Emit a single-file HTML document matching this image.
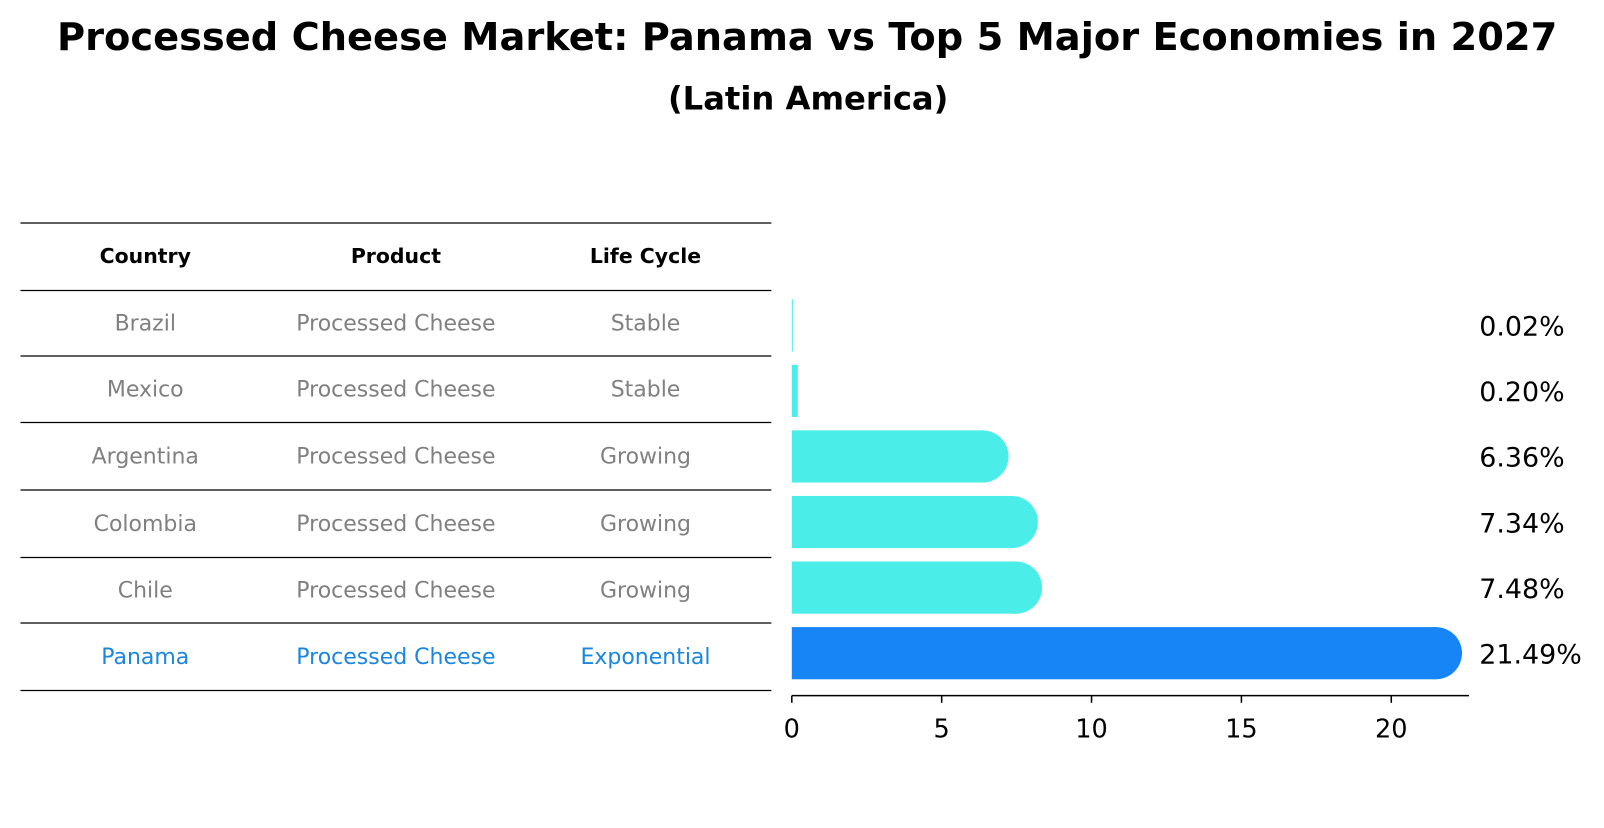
<!DOCTYPE html>
<html><head><meta charset="utf-8">
<style>
body{margin:0;background:#fff;width:1604px;height:823px;overflow:hidden;font-family:"Liberation Sans","DejaVu Sans",sans-serif;}
</style></head>
<body>
<svg width="1604" height="823" xmlns="http://www.w3.org/2000/svg">
<g transform="scale(1.023)">
<text x="789" y="49" text-anchor="middle" font-size="37.5" font-weight="bold" font-family="DejaVu Sans, sans-serif">Processed Cheese Market: Panama vs Top 5 Major Economies in 2027</text>
<text x="790" y="107" text-anchor="middle" font-size="31.5" font-weight="bold" font-family="DejaVu Sans, sans-serif">(Latin America)</text>
<g id="table"></g>
<g id="bars"></g>
</g>
</svg>
<script>
const countries=["Brazil","Mexico","Argentina","Colombia","Chile","Panama"];
const products=["Processed Cheese","Processed Cheese","Processed Cheese","Processed Cheese","Processed Cheese","Processed Cheese"];
const lifeCycles=["Stable","Stable","Growing","Growing","Growing","Exponential"];
const values=[0.02,0.20,6.36,7.34,7.48,21.49];
const valueLabels=["0.02%","0.20%","6.36%","7.34%","7.48%","21.49%"];
const ticks=[0,5,10,15,20];
const NS="http://www.w3.org/2000/svg";
function mk(tag,attrs,parent){const e=document.createElementNS(NS,tag);for(const k in attrs)e.setAttribute(k,attrs[k]);parent.appendChild(e);return e;}
const xs=v=>774+v*29.3;
const rowY=i=>318+i*64.1;
const tbl=document.getElementById('table');
const lineYs=[218,284,348,413,479,545,609,675];
lineYs.forEach(y=>{const l=mk('line',{x1:20,x2:754,y1:y,y2:y,stroke:'#000','stroke-width':1.2},tbl);

});
const colX=[142,387,631];
["Country","Product","Life Cycle"].forEach((h,j)=>{const t=mk('text',{x:colX[j],y:257,'text-anchor':'middle','font-size':20,'font-weight':'bold','font-family':'DejaVu Sans, sans-serif'},tbl);t.textContent=h;

});
countries.forEach((c,i)=>{const y=(lineYs[i+1]+lineYs[i+2])/2+7;const col=i===5?'#1a86e0':'#808080';
[c,products[i],lifeCycles[i]].forEach((s,j)=>{const t=mk('text',{x:colX[j],y:y,'text-anchor':'middle','font-size':21.5,fill:col,'font-family':'DejaVu Sans, sans-serif'},tbl);t.textContent=s;

});});
const bars=document.getElementById('bars');
const h=51;
values.forEach((v,i)=>{const cy=rowY(i);const col=i===5?'#1785f5':'#4aede8';
const w=xs(v)-774;
const rect=mk('rect',{x:774,y:cy-h/2,width:Math.max(w,1),height:h,fill:col},bars);


if(w>h/2){const c=mk('circle',{cx:xs(v),cy:cy,r:h/2,fill:col},bars);

}
const t=mk('text',{x:1446,y:cy+10,'font-size':26.3,'font-family':'DejaVu Sans, sans-serif'},bars);t.textContent=valueLabels[i];

});
const ax=mk('line',{x1:774,x2:1436,y1:680,y2:680,stroke:'#000','stroke-width':1.5},bars);


ticks.forEach(tv=>{const tl=mk('line',{x1:xs(tv),x2:xs(tv),y1:680,y2:687,stroke:'#000','stroke-width':1.5},bars);


const t=mk('text',{x:xs(tv),y:721,'text-anchor':'middle','font-size':25,'font-family':'DejaVu Sans, sans-serif'},bars);t.textContent=tv;

});
</script>
</body></html>
